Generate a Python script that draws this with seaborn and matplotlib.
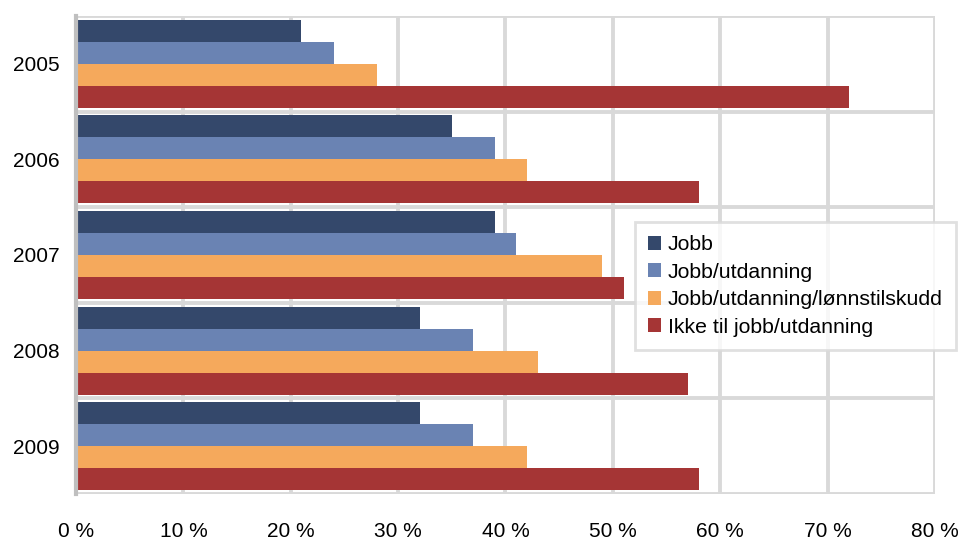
import matplotlib
matplotlib.use("Agg")
import matplotlib.pyplot as plt
import seaborn as sns
import pandas as pd
from matplotlib.patches import Patch

years = ["2005", "2006", "2007", "2008", "2009"]
series = ["Jobb", "Jobb/utdanning", "Jobb/utdanning/lønnstilskudd", "Ikke til jobb/utdanning"]
jobb = [21, 35, 39, 32, 32]
jobb_utd = [24, 39, 41, 37, 37]
jobb_utd_lonn = [28, 42, 49, 43, 42]
ikke = [72, 58, 51, 57, 58]
colors = ["#34486b", "#6a83b3", "#f5a95c", "#a53535"]
xticks = [0, 10, 20, 30, 40, 50, 60, 70, 80]

rows = []
for name, vals in zip(series, [jobb, jobb_utd, jobb_utd_lonn, ikke]):
    for y, v in zip(years, vals):
        rows.append({"year": y, "series": name, "value": v})
df = pd.DataFrame(rows)

sns.set_theme(style="white")
plt.rcParams["font.family"] = ["Liberation Sans", "DejaVu Sans"]
plt.rcParams["text.color"] = "black"
plt.rcParams["xtick.color"] = "black"
plt.rcParams["ytick.color"] = "black"

fig = plt.figure(figsize=(9.6, 5.4), dpi=100)
ax = fig.add_axes([76/960, 1-494/540, (935-76)/960, (494-16)/540])

sns.barplot(data=df, y="year", x="value", hue="series", order=years,
            hue_order=series, palette=colors, orient="h", width=0.92,
            saturation=1, ax=ax, legend=False, zorder=3, linewidth=0)

ax.set_xlim(0, 80)
ax.set_ylim(4.5, -0.5)
ax.set_xticks(xticks)
ax.set_xticklabels([f"{v} %" for v in xticks], fontsize=15)
ax.set_yticks(range(len(years)))
ax.set_yticklabels(years, fontsize=15)
ax.set_yticks([i - 0.5 for i in range(len(years) + 1)], minor=True)
ax.set_xlabel("")
ax.set_ylabel("")
ax.tick_params(axis="both", which="both", length=0, colors="black")
ax.tick_params(axis="x", pad=20)
ax.tick_params(axis="y", pad=12)
ax.grid(axis="x", which="major", color="#d9d9d9", linewidth=2.8, zorder=0)
ax.grid(axis="y", which="minor", color="#d9d9d9", linewidth=2.8, zorder=0)
ax.grid(axis="y", which="major", visible=False)
ax.set_axisbelow(True)
for s in ["top", "right", "bottom"]:
    ax.spines[s].set_visible(False)
ax.spines["left"].set_color("#bfbfbf")
ax.spines["left"].set_linewidth(3)
ax.spines["left"].set_zorder(4)

handles = [Patch(facecolor=c, edgecolor="none", label=s) for c, s in zip(colors, series)]
leg = fig.legend(handles=handles, loc="upper left", bbox_to_anchor=(635/960, 1-222/540),
                 fontsize=15.3, frameon=True, fancybox=False, handlelength=0.62,
                 handleheight=0.62, handletextpad=0.3, labelspacing=0.4,
                 borderpad=0.62, borderaxespad=0)
leg.get_frame().set_edgecolor("#d9d9d9")
leg.get_frame().set_linewidth(2)
leg.get_frame().set_facecolor("white")
for t in leg.get_texts():
    t.set_color("black")

fig.savefig("out.png", dpi=100)
